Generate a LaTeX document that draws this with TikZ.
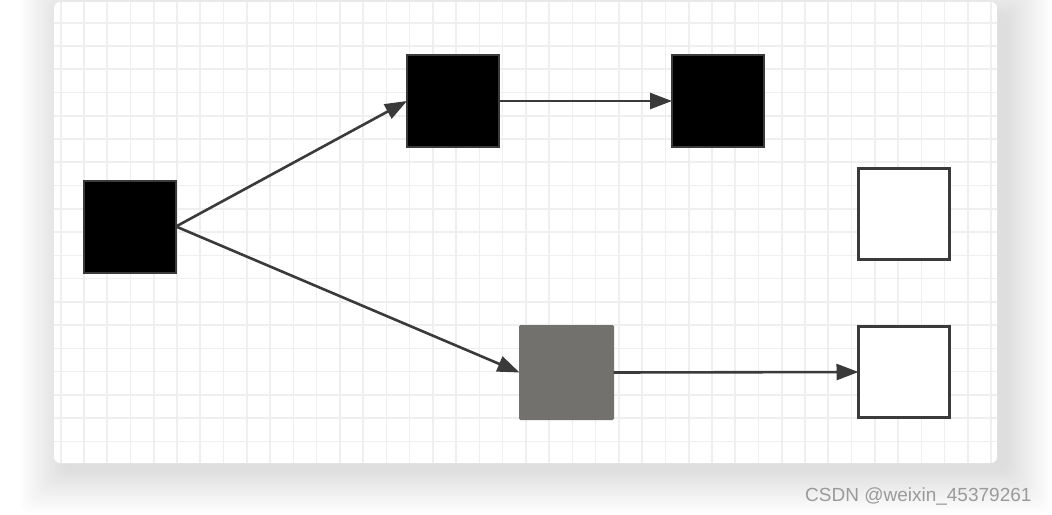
\documentclass[tikz,border=0pt]{standalone}
\usepackage{fontspec}
\setmainfont{Liberation Sans}
\usetikzlibrary{arrows.meta}
\definecolor{gridc}{HTML}{EFEFEF}
\definecolor{edgec}{HTML}{3A3A3A}
\definecolor{boxgray}{HTML}{72716D}
\definecolor{wmc}{HTML}{9A9A9A}
\begin{document}
\begin{tikzpicture}[x=1pt,y=-1pt,
  blkbox/.style={draw=edgec, line width=2pt, fill=black, minimum size=92pt, inner sep=0pt, outer sep=0pt},
  whtbox/.style={draw=edgec, line width=3pt, fill=white, minimum size=91pt, inner sep=0pt, outer sep=0pt},
  grybox/.style={draw=boxgray, line width=1pt, fill=boxgray, rounded corners=1pt, minimum size=94pt, inner sep=0pt, outer sep=0pt},
  conn/.style={draw=edgec, line width=2.6pt, -{Triangle[length=22pt,width=16pt]}},
  gridline/.style={draw=gridc, line width=1.6pt}]
\useasboundingbox (0,0) rectangle (1052,514);
\clip (0,0) rectangle (1052,514);
\fill[white] (0,0) rectangle (1052,514);
% shadow: solid layers, outermost (lightest) first
\foreach \i in {40,39,...,1}{
  \pgfmathsetmacro{\dk}{0.32*(41-\i)}
  \fill[black!\dk, rounded corners=10pt]
    ({54+10-1.1*\i},{2+14-1.1*\i}) rectangle ({997+10+1.1*\i},{463+6+1.1*\i});
}
% card
\fill[white, rounded corners=6pt] (54,2) rectangle (997,463);
\begin{scope}
  \clip[rounded corners=6pt] (54,2) rectangle (997,463);
  \foreach \i in {0,...,41}{
    \draw[gridline] ({37.44+\i*23.26},0) -- ({37.44+\i*23.26},470);
  }
  \foreach \j in {0,...,20}{
    \draw[gridline] (50,{-0.56+\j*23.26}) -- (1000,{-0.56+\j*23.26});
  }
\end{scope}
% boxes
\node[blkbox] (A) at (130,226.5) {};
\node[blkbox] (B) at (453,101) {};
\node[blkbox] (C) at (718,101) {};
\node[whtbox] (D) at (904,214) {};
\node[grybox] (E) at (566.5,372.5) {};
\node[whtbox] (F) at (904,372) {};
% connectors
\draw[conn] (A.east) -- (B.west);
\draw[conn] (A.east) -- (E.west);
\draw[conn] (B.east) -- (C.west);
\draw[conn] (E.east) -- (F.west);
% watermark
\node[anchor=base west, text=wmc, font=\fontsize{19}{19}\selectfont, inner sep=0pt] (wm) at (805,501.5) {CSDN @weixin\_45379261};
\end{tikzpicture}
\end{document}
